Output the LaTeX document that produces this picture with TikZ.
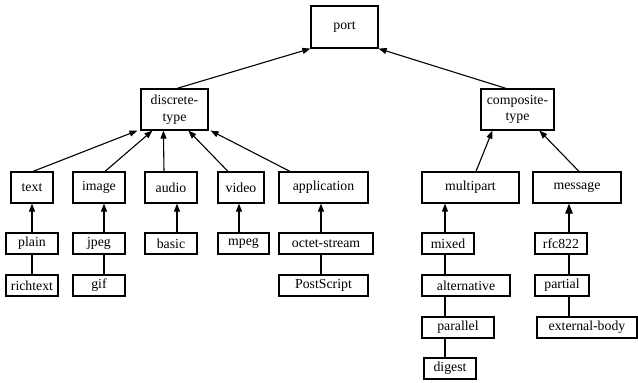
\documentclass[tikz,border=0pt]{standalone}
\usepackage{fontspec}
\setmainfont{Liberation Serif}
\usetikzlibrary{arrows.meta}
\begin{document}
\begin{tikzpicture}[x=1pt,y=-1pt,
  box/.style={draw, line width=1.2pt, rectangle, inner sep=0pt, align=center,
    font=\fontsize{13.8}{16.5}\selectfont},
  arr/.style={line width=1.1pt, -{Triangle[length=8pt,width=6pt]}},
  bigarr/.style={line width=1.1pt, -{Triangle[length=10pt,width=7.5pt]}},
  link/.style={line width=1.1pt}]
\useasboundingbox (0,0) rectangle (638,383);

% root and the two main branches
\node[box, minimum width=67pt, minimum height=42pt] (port) at (344.5,27) {port};
\node[box, minimum width=67pt, minimum height=41pt] (discrete) at (174.5,109.5) {discrete-\\type};
\node[box, minimum width=73pt, minimum height=41pt] (composite) at (517.5,109.5) {composite-\\type};

% media types
\node[box, minimum width=42pt, minimum height=31pt] (text) at (32,187.5) {text};
\node[box, minimum width=52pt, minimum height=31pt] (image) at (99,187.5) {image};
\node[box, minimum width=52pt, minimum height=31pt] (audio) at (171,187.5) {audio};
\node[box, minimum width=46pt, minimum height=31pt] (video) at (241,187.5) {video};
\node[box, minimum width=89pt, minimum height=31pt] (application) at (323.5,187.5) {application};
\node[box, minimum width=97pt, minimum height=31pt] (multipart) at (470.5,187.5) {multipart};
\node[box, minimum width=88pt, minimum height=31pt] (message) at (577,187.5) {message};

% subtypes, first row
\node[box, minimum width=52pt, minimum height=21pt] (plain) at (32,243.5) {plain};
\node[box, minimum width=52pt, minimum height=21pt] (jpeg) at (99,243.5) {jpeg};
\node[box, minimum width=52pt, minimum height=21pt] (basic) at (171,243.5) {basic};
\node[box, minimum width=51pt, minimum height=21pt] (mpeg) at (243.5,243.5) {mpeg};
\node[box, minimum width=94pt, minimum height=21pt] (octet) at (326,243.5) {octet-stream};
\node[box, minimum width=52pt, minimum height=21pt] (mixed) at (448,243.5) {mixed};
\node[box, minimum width=52pt, minimum height=21pt] (rfc) at (561,243.5) {rfc822};

% subtypes, second row
\node[box, minimum width=52pt, minimum height=21pt] (richtext) at (32,285.5) {richtext};
\node[box, minimum width=52pt, minimum height=21pt] (gif) at (99,285.5) {gif};
\node[box, minimum width=89pt, minimum height=21pt] (postscript) at (323.5,285.5) {PostScript};
\node[box, minimum width=88pt, minimum height=21pt] (alternative) at (466,285.5) {alternative};
\node[box, minimum width=54pt, minimum height=21pt] (partial) at (562,285.5) {partial};

% subtypes, further rows
\node[box, minimum width=72pt, minimum height=21pt] (parallel) at (458,327.5) {parallel};
\node[box, minimum width=100pt, minimum height=21pt] (external) at (587,327.5) {external-body};
\node[box, minimum width=52pt, minimum height=21pt] (digest) at (450,368.5) {digest};

% columns of the vertical connectors
\coordinate (ctext) at (32,0);
\coordinate (cimage) at (104,0);
\coordinate (caudio) at (177,0);
\coordinate (cvideo) at (239,0);
\coordinate (capp) at (321,0);
\coordinate (cmulti) at (445,0);
\coordinate (cmsg) at (569,0);

% branches to the root
\draw[arr] ([xshift=2.5pt]discrete.north) -- (port.south west);
\draw[arr] ([xshift=-11.5pt]composite.north) -- (port.south east);

% media types to discrete-type
\draw[arr] ([xshift=1pt]text.north) -- ([xshift=-3pt]discrete.south west);
\draw[arr] ([xshift=6pt]image.north) -- ([xshift=12pt]discrete.south west);
\draw[arr] ([xshift=-7pt]audio.north) -- ([xshift=23pt]discrete.south west);
\draw[arr] ([xshift=-13pt]video.north) -- ([xshift=48pt]discrete.south west);
\draw[arr] ([xshift=-33.5pt]application.north) -- ([xshift=2pt]discrete.south east);

% media types to composite-type
\draw[arr] ([xshift=5.5pt]multipart.north) -- ([xshift=12pt]composite.south west);
\draw[arr] ([xshift=2pt]message.north) -- ([xshift=59pt]composite.south west);

% subtypes to their media types
\draw[arr] (plain.north -| ctext) -- (text.south -| ctext);
\draw[arr] (jpeg.north -| cimage) -- (image.south -| cimage);
\draw[arr] (basic.north -| caudio) -- (audio.south -| caudio);
\draw[arr] (mpeg.north -| cvideo) -- (video.south -| cvideo);
\draw[arr] (octet.north -| capp) -- (application.south -| capp);
\draw[arr] (mixed.north -| cmulti) -- (multipart.south -| cmulti);
\draw[bigarr] (rfc.north -| cmsg) -- (message.south -| cmsg);

% plain links between stacked subtypes
\draw[link] (plain.south -| ctext) -- (richtext.north -| ctext);
\draw[link] (jpeg.south -| cimage) -- (gif.north -| cimage);
\draw[link] (octet.south -| capp) -- (postscript.north -| capp);
\draw[link] (mixed.south -| cmulti) -- (alternative.north -| cmulti);
\draw[link] (alternative.south -| cmulti) -- (parallel.north -| cmulti);
\draw[link] (parallel.south -| cmulti) -- (digest.north -| cmulti);
\draw[link] (rfc.south -| cmsg) -- (partial.north -| cmsg);
\draw[link] (partial.south -| cmsg) -- (external.north -| cmsg);
\end{tikzpicture}
\end{document}
